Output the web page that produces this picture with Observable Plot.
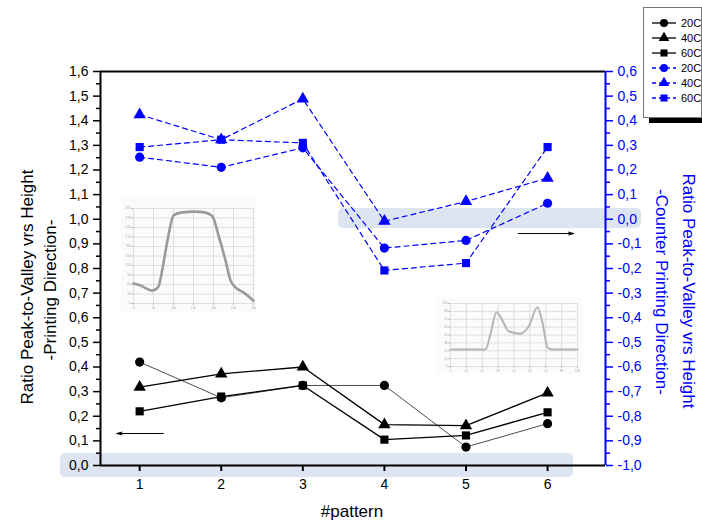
<!DOCTYPE html>
<html><head><meta charset="utf-8">
<script src="https://cdn.jsdelivr.net/npm/d3@7"></script>
<script src="https://cdn.jsdelivr.net/npm/@observablehq/plot@0.6"></script>
<style>
body{margin:0;background:#fff;font-family:"Liberation Sans",Arial,sans-serif;}
#wrap{position:relative;width:702px;height:529px;overflow:hidden;background:#fff;}
.band{position:absolute;background:#dce5f1;border-radius:5px;}
.abs{position:absolute;}
.title{position:absolute;white-space:nowrap;font-size:17px;line-height:1;}
</style></head><body><div id="wrap"></div>
<script>
// ---------- data ----------
const patterns = [1, 2, 3, 4, 5, 6];
// left axis (Printing Direction), black
const print20 = [0.42, 0.275, 0.325, 0.325, 0.075, 0.17];
const print40 = [0.318, 0.372, 0.40, 0.166, 0.162, 0.295];
const print60 = [0.22, 0.28, 0.325, 0.105, 0.122, 0.216];
// right axis (Counter Printing Direction), blue
const counter20 = [0.252, 0.211, 0.29, -0.117, -0.086, 0.065];
const counter40 = [0.425, 0.323, 0.489, -0.008, 0.072, 0.167];
const counter60 = [0.293, 0.323, 0.31, -0.208, -0.178, 0.293];
const seriesNames = ["20C", "40C", "60C"];
const leftTicks = [0, 0.1, 0.2, 0.3, 0.4, 0.5, 0.6, 0.7, 0.8, 0.9, 1.0, 1.1, 1.2, 1.3, 1.4, 1.5, 1.6];
const rightTicks = [-1.0, -0.9, -0.8, -0.7, -0.6, -0.5, -0.4, -0.3, -0.2, -0.1, 0.0, 0.1, 0.2, 0.3, 0.4, 0.5, 0.6];
const rightOffset = 1.0; // right value + 1.0 = left value
const arrows = [{x1: 1.29, x2: 0.72, y: 0.13}, {x1: 5.64, x2: 6.32, y: 0.942}];
// inset profile curves (approximate shapes read from the thumbnails)
const inset1X = [0, 17.5, 47.5, 62.5, 72.5, 85, 100, 117.5, 155, 180, 197.5, 212.5, 230, 242.5, 255, 275, 300];
const inset1Y = [63, 57, 41, 54, 110, 199, 278, 287, 290, 287, 275, 215, 136, 73, 51, 35, 9];
const inset2X = [0, 27.6, 31.5, 36.2, 40.9, 45.7, 55, 61.4, 68.5, 72.4, 76.4, 80.3, 100];
const inset2Y = [27, 27, 52, 86, 73, 56, 52, 63, 94, 70, 30, 27, 27];

// ---------- helpers ----------
const fmt = v => { const r = Math.round(v * 10) / 10; return (r === 0 ? 0 : r).toFixed(1).replace(".", ","); };
const minorLeft = leftTicks.slice(0, -1).map(v => v + 0.05);
const rec = (ys, s) => patterns.map((p, i) => ({x: p, y: ys[i], s}));
const black = [...rec(print20, "20C"), ...rec(print40, "40C"), ...rec(print60, "60C")];
const blue = [...rec(counter20, "20C"), ...rec(counter40, "40C"), ...rec(counter60, "60C")].map(d => ({...d, y: d.y + rightOffset}));
const symbols = {"20C": "circle", "40C": "triangle", "60C": "square"};
const widths = {"20C": 0.7, "40C": 1.3, "60C": 1.3};

const wrap = document.getElementById("wrap");
const addDiv = (cls, css, html) => { const d = document.createElement("div"); d.className = cls; Object.assign(d.style, css); if (html) d.innerHTML = html; wrap.appendChild(d); return d; };

// highlight bands (behind)
addDiv("band", {left: "60px", top: "453px", width: "513px", height: "24px"});
addDiv("band", {left: "338px", top: "208px", width: "303px", height: "20px"});

const xDom = [0.52, 6.71];
const main = Plot.plot({
  width: 702, height: 529,
  marginLeft: 100, marginRight: 97, marginTop: 71, marginBottom: 64,
  style: {background: "transparent", fontFamily: "Liberation Sans, Arial, sans-serif", fontSize: "14px", overflow: "visible"},
  x: {domain: xDom},
  y: {domain: [0, 1.6]},
  marks: [
    Plot.axisY(minorLeft, {anchor: "left", tickSize: 4, tickFormat: () => "", stroke: "black", strokeWidth: 1.5, label: null}),
    Plot.axisY(leftTicks, {anchor: "left", tickSize: 7, tickPadding: 5, tickFormat: fmt, stroke: "black", fill: "black", strokeWidth: 1.5, label: null}),
    Plot.axisY(minorLeft, {anchor: "right", tickSize: 4, tickFormat: () => "", stroke: "#0000ff", strokeWidth: 1.5, label: null}),
    Plot.axisY(rightTicks.map(v => v + rightOffset), {anchor: "right", tickSize: 7, tickPadding: 5, tickFormat: d => fmt(d - rightOffset), stroke: "#0000ff", fill: "#0000ff", strokeWidth: 1.5, label: null}),
    Plot.axisX(patterns, {tickSize: 6, tickPadding: 8, tickFormat: d => String(d), stroke: "black", fill: "black", strokeWidth: 2, label: null}),
    Plot.ruleY([0], {stroke: "black", strokeWidth: 2}),
    Plot.ruleY([1.6], {stroke: "black", strokeWidth: 2}),
    Plot.ruleX([xDom[0]], {stroke: "black", strokeWidth: 2}),
    Plot.ruleX([xDom[1]], {stroke: "#0000ff", strokeWidth: 2}),
    ...seriesNames.map(s => Plot.line(black.filter(d => d.s === s), {x: "x", y: "y", stroke: "black", strokeWidth: widths[s]})),
    ...seriesNames.map(s => Plot.line(blue.filter(d => d.s === s), {x: "x", y: "y", stroke: "#0000ff", strokeWidth: 1.2, strokeDasharray: "5,4"})),
    ...seriesNames.map(s => Plot.dot(black.filter(d => d.s === s), {x: "x", y: "y", symbol: symbols[s], fill: "black", r: 4.6})),
    ...seriesNames.map(s => Plot.dot(blue.filter(d => d.s === s), {x: "x", y: "y", symbol: symbols[s], fill: "#0000ff", r: 4.6})),
    Plot.arrow(arrows, {x1: "x1", x2: "x2", y1: "y", y2: "y", stroke: "black", strokeWidth: 1, headLength: 8, headAngle: 30})
  ]
});
main.style.position = "absolute"; main.style.left = "0px"; main.style.top = "0px";
wrap.appendChild(main);

// insets
function inset(xs, ys, xDomain, yDomain, box, m, strokeColor, sw, xt, yt) {
  const p = Plot.plot({
    width: box.w, height: box.h,
    marginLeft: m[0], marginRight: m[1], marginTop: m[2], marginBottom: m[3],
    style: {background: "#fbfbfb", fontSize: "3px", fontFamily: "Liberation Sans, Arial"},
    x: {domain: xDomain}, y: {domain: yDomain},
    marks: [
      Plot.gridX(xt, {stroke: "#d8d8d8", strokeOpacity: 1, strokeWidth: 0.8}),
      Plot.gridY(yt, {stroke: "#d8d8d8", strokeOpacity: 1, strokeWidth: 0.8}),
      Plot.axisY(yt, {tickSize: 2, stroke: "#bbb", fill: "#aaa", label: null, tickPadding: 1}),
      Plot.axisX(xt, {tickSize: 2, stroke: "#bbb", fill: "#aaa", label: null, tickPadding: 1}),
      Plot.line(xs.map((x, i) => ({x, y: ys[i]})), {x: "x", y: "y", stroke: strokeColor, strokeWidth: sw, curve: "monotone-x"})
    ]
  });
  p.style.position = "absolute"; p.style.left = box.x + "px"; p.style.top = box.y + "px";
  p.style.filter = "blur(0.5px)";
  wrap.appendChild(p);
}
inset(inset1X, inset1Y, [0, 300], [0, 300], {x: 121, y: 196, w: 136, h: 117}, [12, 4, 12, 10], "#9a9a9a", 2.6,
  [0, 50, 100, 150, 200, 250, 300], [0, 30, 60, 90, 120, 150, 180, 210, 240, 270, 300]);
inset(inset2X, inset2Y, [0, 100], [0, 100], {x: 437, y: 298, w: 145, h: 76}, [13, 5, 5, 8], "#b5b5b5", 2,
  [0, 12.5, 25, 37.5, 50, 62.5, 75, 87.5, 100], [0, 12.5, 25, 37.5, 50, 62.5, 75, 87.5, 100]);

// axis titles
addDiv("title", {left: "27px", top: "287px", transform: "translate(-50%,-50%) rotate(-90deg)", color: "#000"}, "Ratio Peak-to-Valley vrs Height");
addDiv("title", {left: "50px", top: "290px", transform: "translate(-50%,-50%) rotate(-90deg)", color: "#000"}, "-Printing Direction-");
addDiv("title", {left: "688px", top: "291px", transform: "translate(-50%,-50%) rotate(90deg)", color: "#0000ff"}, "Ratio Peak-to-Valley vrs Height");
addDiv("title", {left: "661px", top: "292px", transform: "translate(-50%,-50%) rotate(90deg)", color: "#0000ff"}, "-Counter Printing Direction-");
addDiv("title", {left: "352px", top: "511px", transform: "translate(-50%,-50%)", color: "#000"}, "#pattern");

// legend
const leg = addDiv("abs", {left: "643px", top: "7px", width: "57px", height: "109px", border: "1px solid #777", background: "#fff", boxShadow: "6px 5px 0 0 #000"});
const lsvg = d3.select(leg).append("svg").attr("width", 57).attr("height", 109).style("display", "block");
const legItems = [
  ...seriesNames.map(s => ({s, color: "black", dash: null, w: 1.3})),
  ...seriesNames.map(s => ({s, color: "#0000ff", dash: "4,3", w: 1.3}))
];
const symMap = {"20C": d3.symbolCircle, "40C": d3.symbolTriangle, "60C": d3.symbolSquare};
legItems.forEach((it, i) => {
  const y = 15 + i * 15;
  const g = lsvg.append("g").attr("transform", `translate(0,${y})`);
  g.append("line").attr("x1", 8).attr("x2", 32).attr("y1", 0).attr("y2", 0).attr("stroke", it.color).attr("stroke-width", it.w).attr("stroke-dasharray", it.dash);
  g.append("path").attr("d", d3.symbol(symMap[it.s], 50)()).attr("transform", "translate(20,0)").attr("fill", it.color);
  g.append("text").attr("x", 37).attr("y", 4).attr("font-size", 11).attr("font-family", "Liberation Sans, Arial").text(it.s);
});
</script></body></html>
